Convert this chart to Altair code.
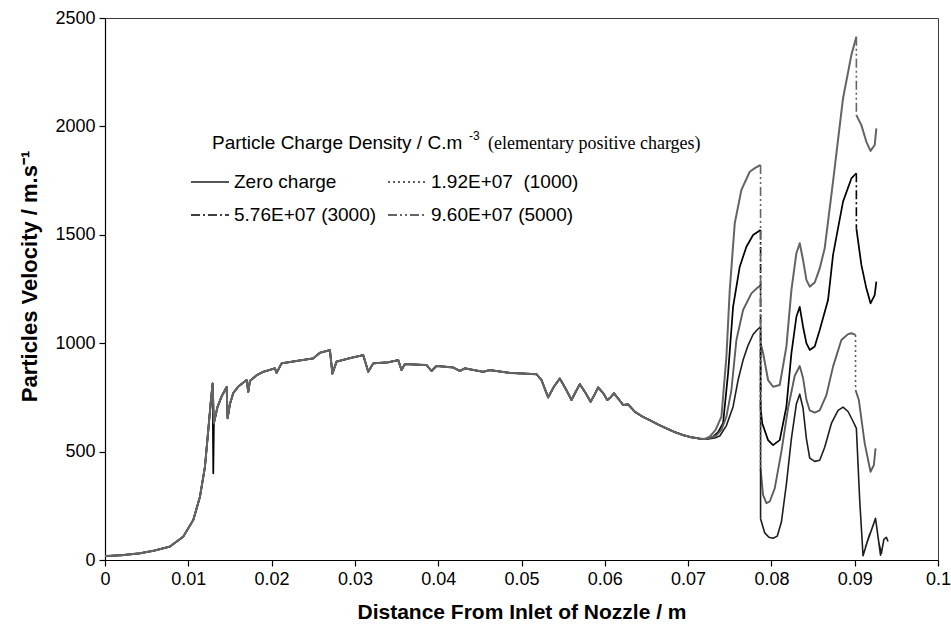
import altair as alt
import pandas as pd

# ---------------- data ----------------
# legend order (row by row): Zero charge, 1.92E+07 / 5.76E+07, 9.60E+07
S0 = "Zero charge"
S1 = "1.92E+07\u00a0 (1000)"
S3 = "5.76E+07 (3000)"
S5 = "9.60E+07 (5000)"
SERIES = [S0, S3, S1, S5]
COLORS = ["#1e1e1e", "#000000", "#5c5c5c", "#646464"]
DASHES = [[1, 0], [9, 3, 2, 3], [2, 3], [9, 3, 2, 3, 2, 3]]
WIDTHS = [1.6, 2.0, 2.1, 2.2]

X_TICKS = [0, 0.01, 0.02, 0.03, 0.04, 0.05, 0.06, 0.07, 0.08, 0.09, 0.1]
Y_TICKS = [0, 500, 1000, 1500, 2000, 2500]

# part shared by all four series (x in m, velocity in m/s)
common_x = [0.0, 0.002, 0.0042, 0.006, 0.0078, 0.0094, 0.0106, 0.0114, 0.0120, 0.0124,
            0.0127, 0.01292, 0.01307, 0.0135, 0.0140, 0.0146, 0.01472, 0.0150, 0.0154, 0.0160,
            0.0170, 0.0172, 0.0174, 0.0182, 0.0190, 0.0204, 0.0206, 0.0212, 0.0230, 0.0250,
            0.0258, 0.0270, 0.0273, 0.0278, 0.0295, 0.0310, 0.0316, 0.0322, 0.0340, 0.0352,
            0.0356, 0.0360, 0.0386, 0.0392, 0.0398, 0.0418, 0.0426, 0.0432, 0.0454, 0.0462,
            0.0486, 0.0518, 0.0524, 0.0532, 0.0539, 0.0546, 0.0553, 0.0560, 0.0565, 0.0570,
            0.0577, 0.0583, 0.0588, 0.0592, 0.0598, 0.0603, 0.0607, 0.0611, 0.0617, 0.0622,
            0.0628, 0.0636, 0.0645, 0.0654, 0.0664, 0.0674, 0.0684, 0.0694, 0.0704, 0.0714,
            0.0720]
common_v = [18, 22, 31, 44, 62, 108, 185, 292, 430, 600,
            730, 814, 631, 705, 755, 798, 654, 720, 770, 800,
            830, 776, 826, 852, 868, 884, 863, 907, 918, 930,
            956, 968, 860, 915, 932, 945, 868, 907, 912, 922,
            876, 904, 899, 872, 895, 888, 872, 884, 868, 876,
            863, 857, 830, 750, 800, 837, 790, 738, 775, 811,
            770, 730, 765, 796, 770, 738, 750, 769, 740, 715,
            718, 684, 662, 645, 625, 607, 590, 576, 566, 560,
            558]

# narrow downward spike near 0.013 m (black curve only)
spike_x = [0.01300]
spike_v = [400]

# Zero charge
zero_a_x = [0.0726, 0.0732, 0.0738, 0.0746, 0.0754, 0.0760, 0.0766, 0.0772, 0.0778, 0.0783, 0.0787]
zero_a_v = [560, 563, 572, 620, 707, 830, 922, 990, 1040, 1062, 1076]
zero_b_x = [0.0787, 0.0792, 0.0797, 0.0802, 0.0807, 0.0812, 0.0818, 0.0824, 0.0830, 0.0834,
            0.0838, 0.0842, 0.0846, 0.0852, 0.0858, 0.0864, 0.0872, 0.0880, 0.0886, 0.0892,
            0.0898, 0.0902, 0.0906, 0.0910, 0.0918, 0.0913, 0.0925, 0.0931, 0.0929, 0.0932,
            0.0935, 0.0938, 0.0940]
zero_b_v = [190, 125, 105, 100, 110, 175, 350, 560, 720, 765,
            700, 560, 470, 455, 460, 520, 630, 690, 705, 685,
            640, 607, 277, 20, 120, 60, 192, 22, 80, 30,
            95, 105, 85]

# 1.92E+07
c1_a_x = [0.0726, 0.0734, 0.0740, 0.0746, 0.0752, 0.0758, 0.0766, 0.0776, 0.0783, 0.0787]
c1_a_v = [562, 575, 600, 661, 784, 1015, 1153, 1230, 1255, 1268]
c1_b_x = [0.0787, 0.0790, 0.0794, 0.0798, 0.0804, 0.0812, 0.0820, 0.0828, 0.0834, 0.0838,
          0.0842, 0.0846, 0.0852, 0.0858, 0.0866, 0.0874, 0.0884, 0.0892, 0.0896, 0.0901]
c1_b_v = [420, 300, 262, 270, 330, 500, 700, 850, 895, 840,
          740, 690, 680, 690, 760, 892, 1015, 1042, 1046, 1038]
c1_c_x = [0.0901, 0.0905, 0.0912, 0.0919, 0.0923, 0.0925]
c1_c_v = [784, 738, 538, 407, 438, 515]

# 5.76E+07
c3_a_x = [0.0724, 0.0730, 0.0736, 0.0742, 0.0748, 0.0754, 0.0762, 0.0770, 0.0778, 0.0787]
c3_a_v = [560, 569, 590, 631, 861, 1168, 1353, 1445, 1499, 1522]
c3_b_x = [0.0787, 0.0789, 0.0796, 0.0802, 0.0810, 0.0818, 0.0824, 0.0830, 0.0834, 0.0838,
          0.0842, 0.0846, 0.0852, 0.0858, 0.0868, 0.0874, 0.0886, 0.0896, 0.0902]
c3_b_v = [700, 631, 553, 530, 553, 707, 953, 1122, 1168, 1076,
          1000, 969, 985, 1061, 1199, 1407, 1653, 1760, 1784]
c3_c_x = [0.0902, 0.0908, 0.0914, 0.0919, 0.0924, 0.0926]
c3_c_v = [1530, 1361, 1253, 1184, 1222, 1284]

# 9.60E+07
c5_a_x = [0.0726, 0.0733, 0.0740, 0.0746, 0.0750, 0.0756, 0.0764, 0.0774, 0.0781, 0.0787]
c5_a_v = [569, 600, 661, 938, 1245, 1553, 1707, 1791, 1810, 1822]
c5_b_x = [0.0787, 0.0790, 0.0796, 0.0802, 0.0810, 0.0818, 0.0824, 0.0830, 0.0834, 0.0838,
          0.0842, 0.0846, 0.0852, 0.0858, 0.0864, 0.0874, 0.0886, 0.0896, 0.0902]
c5_b_v = [1000, 955, 830, 799, 807, 984, 1245, 1415, 1461, 1384,
          1292, 1261, 1280, 1345, 1438, 1745, 2130, 2329, 2414]
c5_c_x = [0.0902, 0.0908, 0.0914, 0.0919, 0.0924, 0.0926]
c5_c_v = [2052, 2006, 1929, 1887, 1914, 1991]

LEGEND_TITLE_MAIN = "Particle Charge Density  / C.m"
LEGEND_TITLE_SUP = "-3"
LEGEND_TITLE_NOTE = "(elementary positive charges)"
X_TITLE = "Distance From Inlet of Nozzle / m"
Y_TITLE = "Particles Velocity / m.s\u207b\u00b9"

# ---------------- build tables ----------------
segments = {
    S0: [(zero_a_x, zero_a_v), (zero_b_x, zero_b_v)],
    S1: [(c1_a_x, c1_a_v), (c1_b_x, c1_b_v), (c1_c_x, c1_c_v)],
    S3: [(c3_a_x, c3_a_v), (c3_b_x, c3_b_v), (c3_c_x, c3_c_v)],
    S5: [(c5_a_x, c5_a_v), (c5_b_x, c5_b_v), (c5_c_x, c5_c_v)],
}
draw_order = [S0, S3, S1, S5]

rows, conn = [], []
for s in draw_order:
    segs = segments[s]
    for k, (xs, vs) in enumerate(segs):
        if k == 0:
            base = list(zip(common_x, common_v))
            if s == S3:
                base = sorted(base + list(zip(spike_x, spike_v)))
            pts = base + list(zip(xs, vs))
        else:
            pts = list(zip(xs, vs))
        for i, (x, v) in enumerate(pts):
            rows.append({"series": s, "seg": f"{s}|{k}", "idx": i, "x": x, "v": v})
        if k + 1 < len(segs):
            conn.append({"series": s, "x": xs[-1], "v": vs[-1], "v2": segs[k + 1][1][0]})

lines_df = pd.DataFrame(rows)
conn_df = pd.DataFrame(conn)

# ---------------- chart ----------------
FONT = "Liberation Sans"
xscale = alt.Scale(domain=[0, 0.1], nice=False, zero=False)
yscale = alt.Scale(domain=[0, 2500], nice=False)
cscale = alt.Scale(domain=SERIES, range=COLORS)
dscale = alt.Scale(domain=SERIES, range=DASHES)

legend = alt.Legend(
    title=None, orient="none", legendX=85, legendY=144, columns=2,
    symbolType="stroke", symbolSize=1444, symbolStrokeWidth=1.5,
    labelFont=FONT, labelFontSize=19, labelColor="#000", labelOffset=4,
    rowPadding=3, columnPadding=7, padding=0, labelLimit=300,
)

xaxis = alt.Axis(values=X_TICKS, format="~g", title=X_TITLE, labelFontSize=18,
                 titleFontSize=21, titleFontWeight="bold", tickSize=6, labelPadding=4,
                 titlePadding=13, labelFlush=False)
yaxis = alt.Axis(values=Y_TICKS, format="d", title=Y_TITLE, labelFontSize=18, titleFontSize=22,
                 titleFontWeight="bold", tickSize=6, labelPadding=4,
                 titleX=-69, titleY=258, titleBaseline="alphabetic", titleAngle=-90)

lines = alt.Chart(lines_df).mark_line(strokeJoin="round").encode(
    x=alt.X("x:Q", scale=xscale, axis=xaxis),
    y=alt.Y("v:Q", scale=yscale, axis=yaxis),
    color=alt.Color("series:N", scale=cscale, legend=legend),
    strokeWidth=alt.StrokeWidth("series:N", scale=alt.Scale(domain=SERIES, range=WIDTHS), legend=None),
    detail="seg:N",
    order="idx:Q",
)

drops = alt.Chart(conn_df).mark_rule(strokeWidth=1.6).encode(
    x="x:Q",
    y="v:Q",
    y2="v2:Q",
    color=alt.Color("series:N", scale=cscale, legend=legend),
    strokeDash=alt.StrokeDash("series:N", scale=dscale, legend=legend),
)

one = pd.DataFrame({"k": [0]})
t_main = alt.Chart(one).mark_text(align="left", baseline="alphabetic", font=FONT,
                                  fontSize=19, color="#000", text=LEGEND_TITLE_MAIN).encode(
    x=alt.value(107), y=alt.value(131))
t_sup = alt.Chart(one).mark_text(align="left", baseline="alphabetic", font=FONT,
                                 fontSize=12, color="#000", text=LEGEND_TITLE_SUP).encode(
    x=alt.value(364), y=alt.value(122))
t_note = alt.Chart(one).mark_text(align="left", baseline="alphabetic", font="Liberation Serif",
                                  fontSize=18, color="#000", text=LEGEND_TITLE_NOTE).encode(
    x=alt.value(383), y=alt.value(131))

chart = alt.layer(lines, drops, t_main, t_sup, t_note).properties(
    width=833, height=542,
    autosize=alt.AutoSizeParams(type="none"),
    padding={"left": 105, "top": 18, "right": 13, "bottom": 70},
    background="white",
).configure_view(
    stroke="#3a3a3a", strokeWidth=1
).configure_axis(
    grid=False, domainColor="#000", tickColor="#000", labelColor="#000", titleColor="#000",
    labelFont=FONT, titleFont=FONT, domainWidth=1.2, tickWidth=1.2
)

chart.save("out.html", embed_options={"renderer": "svg", "actions": False})
